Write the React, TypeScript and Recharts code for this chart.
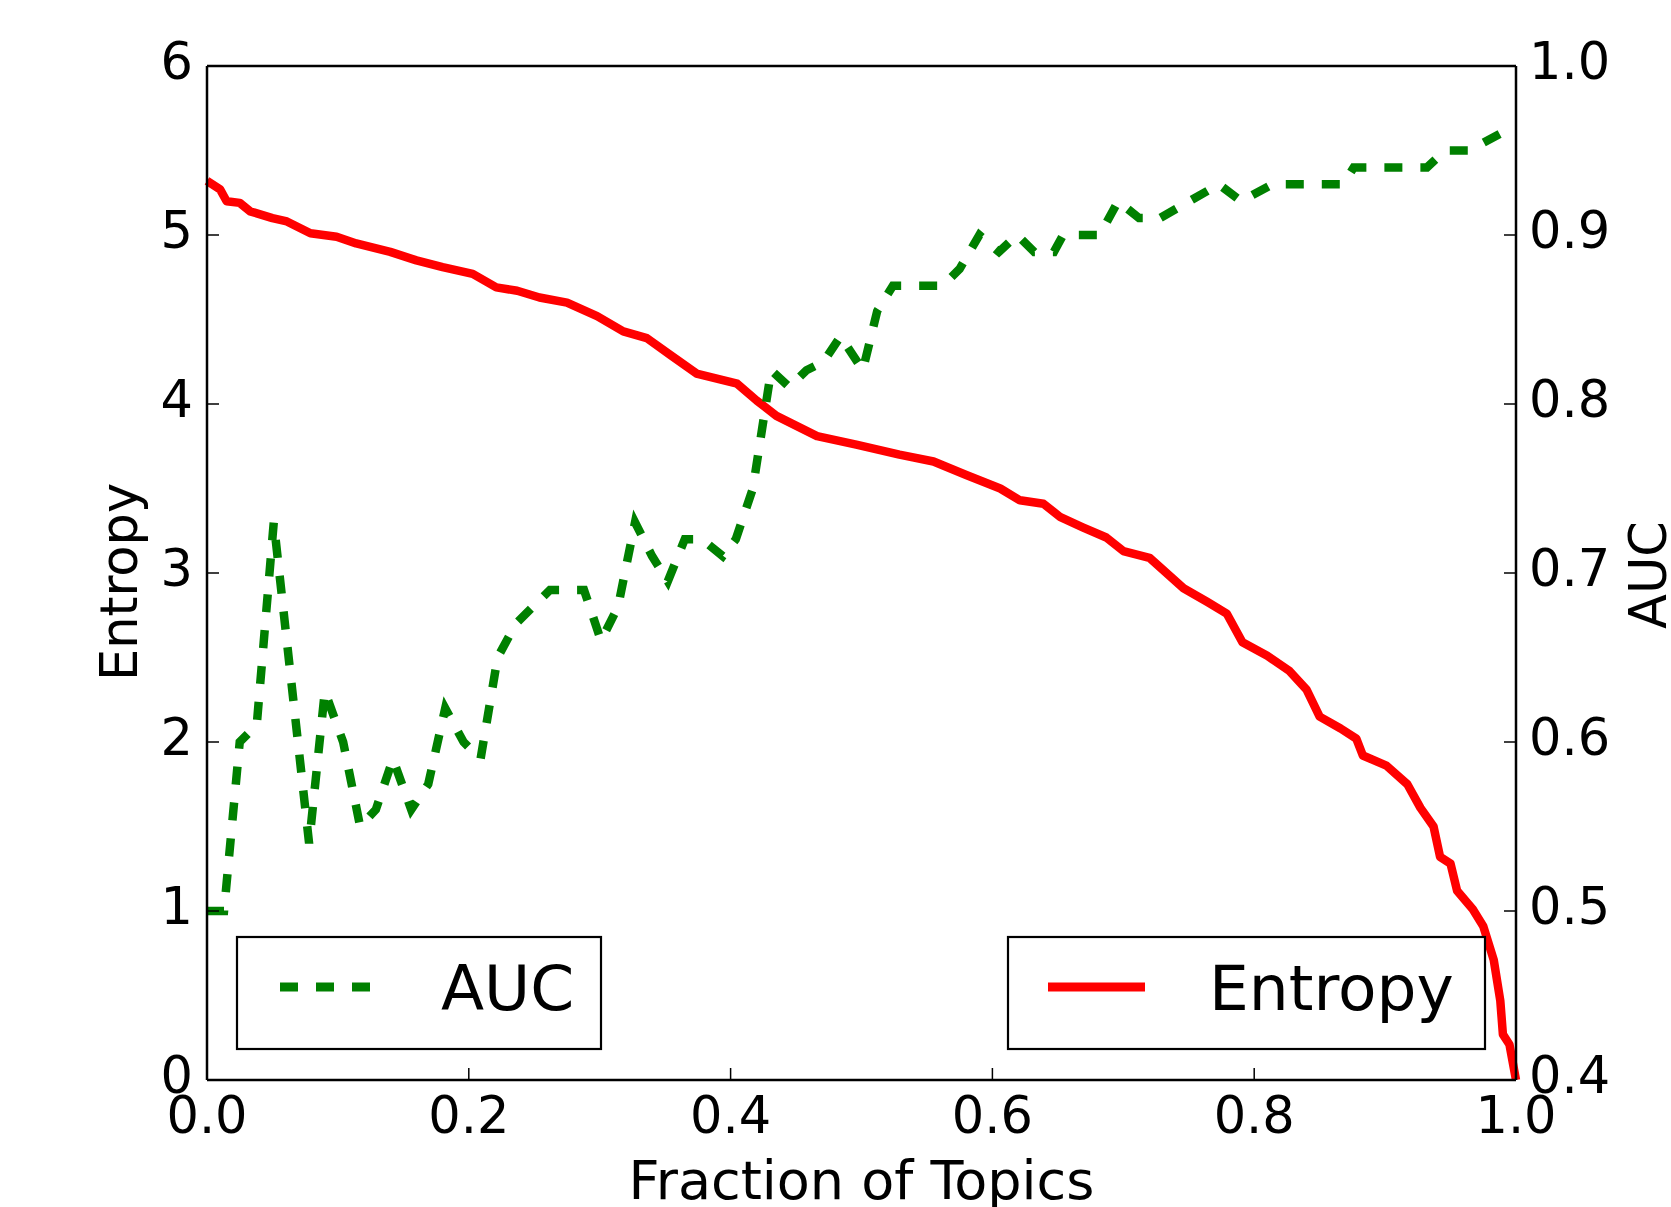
import React from 'react'
import { LineChart, Line, XAxis, YAxis, Legend, Label } from 'recharts'

const FONT = '"DejaVu Sans", sans-serif'

// ── Data ───────────────────────────────────────────────────────────────────

const entropyFraction = [
  0, 0.01, 0.015, 0.025, 0.033, 0.05, 0.061, 0.079, 0.099, 0.114,
  0.14, 0.16, 0.18, 0.203, 0.221, 0.237, 0.254, 0.275, 0.298, 0.318,
  0.336, 0.354, 0.374, 0.405, 0.42, 0.435, 0.466, 0.496, 0.529, 0.555,
  0.58, 0.606, 0.621, 0.639, 0.652, 0.669, 0.687, 0.7, 0.72, 0.746,
  0.764, 0.779, 0.791, 0.81, 0.827, 0.84, 0.85, 0.866, 0.878, 0.883,
  0.901, 0.917, 0.927, 0.937, 0.942, 0.95, 0.955, 0.967, 0.975, 0.983,
  0.988, 0.99, 0.995, 1.0,
]
const entropyValues = [
  5.32, 5.27, 5.2, 5.19, 5.14, 5.1, 5.08, 5.01, 4.99, 4.95,
  4.9, 4.85, 4.81, 4.77, 4.69, 4.67, 4.63, 4.6, 4.52, 4.43,
  4.39, 4.29, 4.18, 4.12, 4.02, 3.93, 3.81, 3.76, 3.7, 3.66,
  3.58, 3.5, 3.43, 3.41, 3.33, 3.27, 3.21, 3.13, 3.09, 2.91,
  2.83, 2.76, 2.59, 2.51, 2.42, 2.31, 2.15, 2.08, 2.02, 1.92,
  1.86, 1.75, 1.61, 1.5, 1.32, 1.28, 1.12, 1.01, 0.91, 0.71,
  0.47, 0.27, 0.21, 0,
]

const aucFraction = [
  0, 0.013, 0.025, 0.038, 0.051, 0.078, 0.09, 0.104, 0.117, 0.129,
  0.142, 0.156, 0.169, 0.182, 0.196, 0.209, 0.222, 0.236, 0.249, 0.262,
  0.288, 0.301, 0.314, 0.327, 0.34, 0.352, 0.365, 0.378, 0.394, 0.404,
  0.417, 0.431, 0.445, 0.458, 0.471, 0.484, 0.501, 0.512, 0.524, 0.562,
  0.575, 0.59, 0.605, 0.619, 0.632, 0.647, 0.654, 0.682, 0.696, 0.712,
  0.728, 0.773, 0.79, 0.814, 0.868, 0.876, 0.932, 0.946, 0.964, 0.988,
]
const aucValues = [
  0.5, 0.5, 0.6, 0.61, 0.73, 0.54, 0.63, 0.6, 0.55, 0.56,
  0.59, 0.56, 0.575, 0.62, 0.6, 0.59, 0.65, 0.67, 0.68, 0.69,
  0.69, 0.66, 0.68, 0.73, 0.71, 0.695, 0.72, 0.72, 0.71, 0.72,
  0.75, 0.82, 0.81, 0.82, 0.825, 0.84, 0.82, 0.855, 0.87, 0.87,
  0.88, 0.9, 0.89, 0.9, 0.89, 0.89, 0.9, 0.9, 0.92, 0.91,
  0.91, 0.93, 0.92, 0.93, 0.93, 0.94, 0.94, 0.95, 0.95, 0.96,
]

const xTicks = [0, 0.2, 0.4, 0.6, 0.8, 1.0]
const entropyTicks = [0, 1, 2, 3, 4, 5, 6]
const aucTicks = [0.4, 0.5, 0.6, 0.7, 0.8, 0.9, 1.0]

const entropyData = entropyFraction.map((x, i) => ({ x, value: entropyValues[i] }))
const aucData = aucFraction.map((x, i) => ({ x, value: aucValues[i] }))

// ── Ticks (matplotlib style: pointing inward) ──────────────────────────────

const TICK = 12
const FS = 51

function BottomTick({ x, y, payload }: any) {
  return (
    <g>
      <line x1={x} y1={y} x2={x} y2={y - TICK} stroke="#000" strokeWidth={1.5} />
      <text x={x} y={y + 53} textAnchor="middle" fontSize={FS} fontFamily={FONT} fill="#000">
        {Number(payload.value).toFixed(1)}
      </text>
    </g>
  )
}

function TopTick({ x, y }: any) {
  return <line x1={x} y1={y} x2={x} y2={y + TICK} stroke="#000" strokeWidth={1.5} />
}

function LeftTick({ x, y, payload }: any) {
  return (
    <g>
      <line x1={x} y1={y} x2={x + TICK} y2={y} stroke="#000" strokeWidth={1.5} />
      <text x={x - 14} y={y + 13} textAnchor="end" fontSize={FS} fontFamily={FONT} fill="#000">
        {payload.value}
      </text>
    </g>
  )
}

function RightTick({ x, y, payload }: any) {
  return (
    <g>
      <line x1={x} y1={y} x2={x - TICK} y2={y} stroke="#000" strokeWidth={1.5} />
      <text x={x + 13} y={y + 13} textAnchor="start" fontSize={FS} fontFamily={FONT} fill="#000">
        {Number(payload.value).toFixed(1)}
      </text>
    </g>
  )
}

// ── Axis titles ────────────────────────────────────────────────────────────

function EntropyTitle({ viewBox }: any) {
  const x = viewBox.x + viewBox.width - 70
  const y = viewBox.y + viewBox.height / 2 + 9
  return (
    <text x={x} y={y} transform={`rotate(-90, ${x}, ${y})`} textAnchor="middle" fontSize={FS} fontFamily={FONT} fill="#000">
      Entropy
    </text>
  )
}

function AucTitle({ viewBox }: any) {
  const x = viewBox.x + 150
  const y = viewBox.y + viewBox.height / 2 + 2
  return (
    <text x={x} y={y} transform={`rotate(-90, ${x}, ${y})`} textAnchor="middle" fontSize={FS} fontFamily={FONT} fill="#000">
      AUC
    </text>
  )
}

function FractionTitle({ viewBox }: any) {
  return (
    <text x={viewBox.x + viewBox.width / 2} y={viewBox.y + 119} textAnchor="middle" fontSize={54} fontFamily={FONT} fill="#000">
      Fraction of Topics
    </text>
  )
}

// ── Legend boxes (lower left: AUC, lower right: Entropy) ──────────────────

function LegendBoxes({ payload }: any) {
  const entries = payload || []
  const auc = entries.find((e: any) => e.value === 'AUC')
  const ent = entries.find((e: any) => e.value === 'Entropy')
  return (
    <svg width={1671} height={1207} style={{ position: 'absolute', left: 0, top: 0 }}>
      <rect x={237} y={937} width={364} height={112} fill="#fff" stroke="#000" strokeWidth={2.2} />
      <line x1={280} y1={987} x2={370} y2={987} stroke={auc?.color ?? '#008000'} strokeWidth={9} strokeDasharray="18 18" />
      <text x={441} y={1010} fontSize={63} fontFamily={FONT} fill="#000">{auc?.value ?? 'AUC'}</text>

      <rect x={1008} y={937} width={477} height={112} fill="#fff" stroke="#000" strokeWidth={2.2} />
      <line x1={1048} y1={987} x2={1145} y2={987} stroke={ent?.color ?? '#ff0000'} strokeWidth={9} />
      <text x={1209} y={1010} fontSize={63} fontFamily={FONT} fill="#000">{ent?.value ?? 'Entropy'}</text>
    </svg>
  )
}

export default function App() {
  return (
    <div style={{ position: 'absolute', left: 0, top: 0, width: 1671, height: 1207, background: '#fff' }}>
      <LineChart width={1671} height={1207} margin={{ top: 56, right: 55, bottom: 7, left: 87 }}>
        <XAxis
          xAxisId="b" dataKey="x" type="number" domain={[0, 1]} ticks={xTicks} interval={0}
          height={120} tickSize={0} tickMargin={0} tickLine={false}
          axisLine={{ stroke: '#000', strokeWidth: 2.5 }} tick={BottomTick}
        >
          <Label content={FractionTitle} />
        </XAxis>
        <XAxis
          xAxisId="t" orientation="top" type="number" domain={[0, 1]} ticks={xTicks} interval={0}
          height={10} tickSize={0} tickMargin={0} tickLine={false}
          axisLine={{ stroke: '#000', strokeWidth: 2.5 }} tick={TopTick}
        />
        <YAxis
          yAxisId="e" type="number" domain={[0, 6]} ticks={entropyTicks} interval={0}
          width={120} tickSize={0} tickMargin={0} tickLine={false}
          axisLine={{ stroke: '#000', strokeWidth: 2.5 }} tick={LeftTick}
        >
          <Label content={EntropyTitle} />
        </YAxis>
        <YAxis
          yAxisId="a" orientation="right" type="number" domain={[0.4, 1.0]} ticks={aucTicks} interval={0}
          width={100} tickSize={0} tickMargin={0} tickLine={false}
          axisLine={{ stroke: '#000', strokeWidth: 2.5 }} tick={RightTick}
        >
          <Label content={AucTitle} />
        </YAxis>
        <Line
          data={entropyData} xAxisId="b" yAxisId="e" dataKey="value" name="Entropy"
          type="linear" stroke="#ff0000" strokeWidth={8.5} strokeLinejoin="round"
          dot={false} activeDot={false} isAnimationActive={false}
        />
        <Line
          data={aucData} xAxisId="b" yAxisId="a" dataKey="value" name="AUC"
          type="linear" stroke="#008000" strokeWidth={8.5} strokeDasharray="18 18"
          dot={false} activeDot={false} isAnimationActive={false}
        />
        <Legend
          content={LegendBoxes} layout="horizontal" verticalAlign="middle" align="center"
          wrapperStyle={{ left: 0, top: 0, width: 1671, height: 1207, pointerEvents: 'none' }}
        />
      </LineChart>
    </div>
  )
}
